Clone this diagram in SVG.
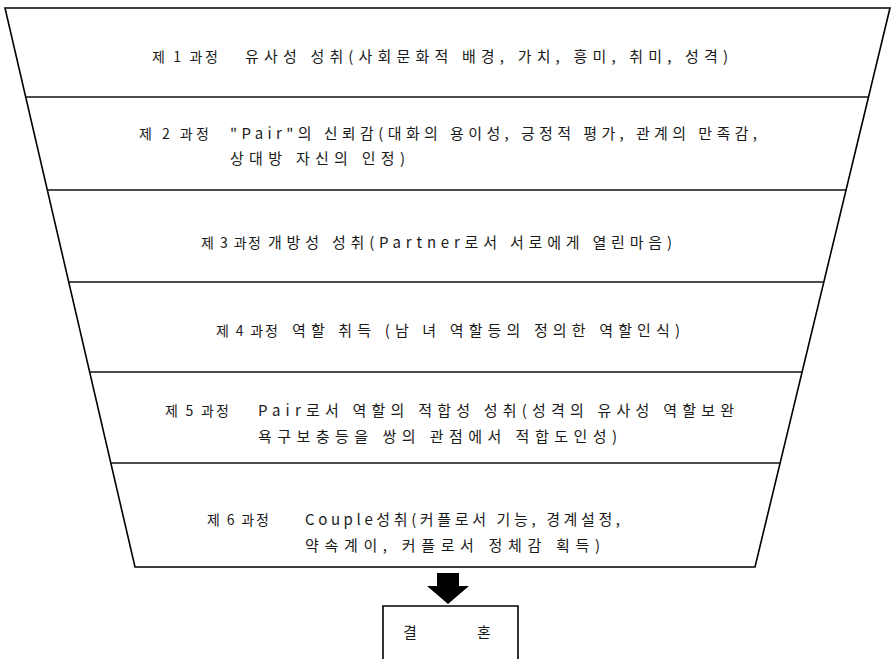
<svg xmlns="http://www.w3.org/2000/svg" width="893" height="659" viewBox="0 0 893 659">
<style>
.edge{stroke:#000;stroke-width:1.6;fill:none}
.sep{stroke:#111;stroke-width:1.6;fill:none}
.t{font-family:"Noto Sans CJK KR","Noto Sans",sans-serif;font-size:15px;fill:#1a1a1a}
.l{font-family:"Noto Sans CJK KR","Noto Sans",sans-serif;font-size:14px;fill:#1a1a1a}
</style>
<rect width="893" height="659" fill="#fff"/>
<g id="funnel">
<polygon class="edge" points="5,8 890,8 755,567 135,567"/>
</g>
<g id="connectors">
<line class="sep" x1="25.7" y1="97" x2="868.5" y2="97"/>
<line class="sep" x1="47.3" y1="190" x2="846" y2="190"/>
<line class="sep" x1="68.7" y1="282" x2="823.8" y2="282"/>
<line class="sep" x1="89.7" y1="372" x2="802.1" y2="372"/>
<line class="sep" x1="110.8" y1="463" x2="780.1" y2="463"/>
<polygon id="arrow" fill="#000" points="437,573 459,573 459,586 469,586 448,604 427,586 437,586"/>
</g>
<g id="stage1">
<text class="l" x="152" y="62" textLength="66" lengthAdjust="spacing">제 1 과정</text>
<text class="t" x="245" y="62" textLength="483" lengthAdjust="spacing">유사성 성취(사회문화적 배경, 가치, 흥미, 취미, 성격)</text>
</g>
<g id="stage2">
<text class="l" x="139" y="139" textLength="70" lengthAdjust="spacing">제 2 과정</text>
<text class="t" x="230" y="139" textLength="527" lengthAdjust="spacing">"Pair"의 신뢰감(대화의 용이성, 긍정적 평가, 관계의 만족감,</text>
<text class="t" x="230" y="164" textLength="175" lengthAdjust="spacing">상대방 자신의 인정)</text>
</g>
<g id="stage3">
<text class="l" x="201" y="248" textLength="60" lengthAdjust="spacing">제 3 과정</text>
<text class="t" x="268" y="248" textLength="404" lengthAdjust="spacing">개방성 성취(Partner로서 서로에게 열린마음)</text>
</g>
<g id="stage4">
<text class="l" x="216" y="336" textLength="62" lengthAdjust="spacing">제 4 과정</text>
<text class="t" x="292" y="336" textLength="388" lengthAdjust="spacing">역할 취득 (남 녀 역할등의 정의한 역할인식)</text>
</g>
<g id="stage5">
<text class="l" x="165" y="416" textLength="64" lengthAdjust="spacing">제 5 과정</text>
<text class="t" x="258" y="416" textLength="476" lengthAdjust="spacing">Pair로서 역할의 적합성 성취(성격의 유사성 역할보완</text>
<text class="t" x="258" y="442" textLength="359" lengthAdjust="spacing">욕구보충등을 쌍의 관점에서 적합도인성)</text>
</g>
<g id="stage6">
<text class="l" x="207" y="525" textLength="62" lengthAdjust="spacing">제 6 과정</text>
<text class="t" x="305" y="525" textLength="315" lengthAdjust="spacing">Couple성취(커플로서 기능, 경계설정,</text>
<text class="t" x="305" y="551" textLength="295" lengthAdjust="spacing">약속계이, 커플로서 정체감 획득)</text>
</g>
<g id="marriage">
<polyline class="edge" points="383,659 383,606 518,606 518,659"/>
<text class="t" x="403" y="638">결</text>
<text class="t" x="477" y="638">혼</text>
</g>
</svg>
